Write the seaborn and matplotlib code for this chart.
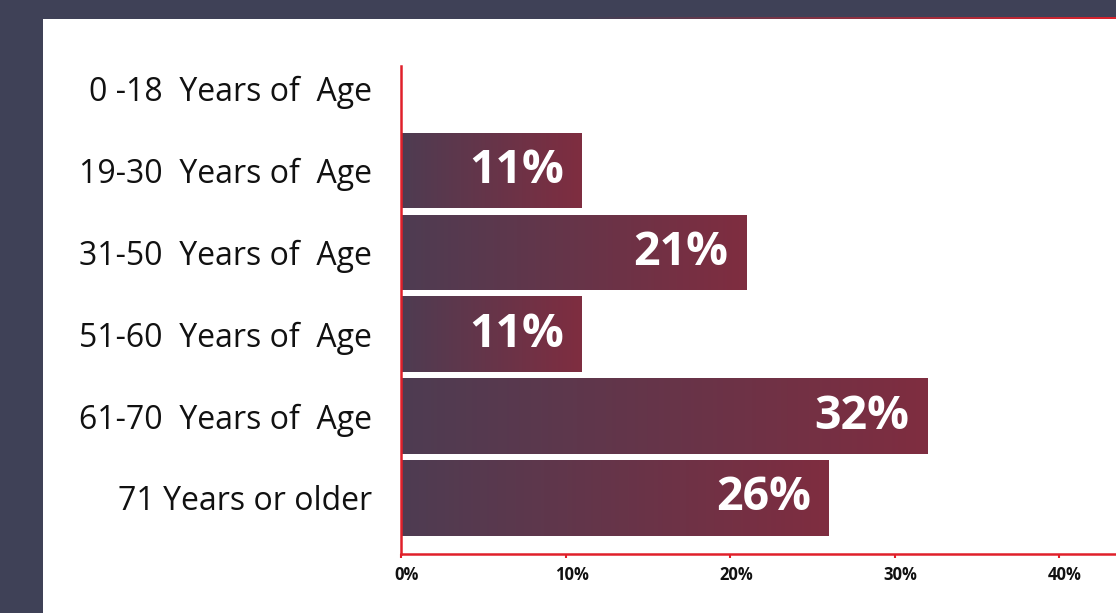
import numpy as np
import pandas as pd
import matplotlib
matplotlib.use("Agg")
import matplotlib.pyplot as plt
import matplotlib.transforms as mtransforms
import seaborn as sns
from matplotlib.colors import LinearSegmentedColormap
from matplotlib.patches import Rectangle

# Share of respondents by age group (percent)
age_groups = [
    "0 -18  Years of  Age",
    "19-30  Years of  Age",
    "31-50  Years of  Age",
    "51-60  Years of  Age",
    "61-70  Years of  Age",
    "71 Years or older",
]
shares = [0, 11, 21, 11, 32, 26]
tick_values = [0, 10, 20, 30, 40]
tick_labels = ["0%", "10%", "20%", "30%", "40%"]

sns.set_theme(style="white")
plt.rcParams["font.family"] = ["Open Sans", "DejaVu Sans"]

BG = "#3f4157"
RED = "#e0202a"
W, H = 1116, 613

fig = plt.figure(figsize=(W / 100, H / 100), dpi=100)
fig.patch.set_facecolor(BG)

# White card
fig.add_artist(Rectangle((43 / W, 0), 1 - 43 / W, (H - 17) / H,
                         transform=fig.transFigure, facecolor="white",
                         edgecolor="none", zorder=0))

# Thin accent line along the top of the card
edge_ax = fig.add_axes([43 / W, (H - 19) / H, 1 - 43 / W, 2 / H])
edge_cmap = LinearSegmentedColormap.from_list("edge", [BG, BG, "#d9232e"])
edge_ax.imshow(np.linspace(0, 1, 256)[None, :], aspect="auto", cmap=edge_cmap,
               extent=[0, 1, 0, 1])
edge_ax.axis("off")

ax = fig.add_axes([401 / W, (H - 554) / H, 1 - 401 / W, (554 - 66) / H])
ax.set_facecolor("none")

df = pd.DataFrame({"group": age_groups, "share": shares})
sns.barplot(data=df, x="share", y="group", orient="h", width=0.92,
            color="#6a3346", saturation=1, ax=ax)

xlim = (0, 715 / 16.45)
ylim = (5.685, -0.275)

# Horizontal gradient fill for each bar
bar_cmap = LinearSegmentedColormap.from_list("bar", ["#4e3c52", "#7f2d40"])
grad = np.linspace(0, 1, 256)[None, :]
for patch in ax.patches:
    x0, y0 = patch.get_x(), patch.get_y()
    w, h = patch.get_width(), patch.get_height()
    if w <= 0:
        continue
    patch.set_facecolor("none")
    patch.set_edgecolor("none")
    im = ax.imshow(grad, extent=[x0, x0 + w, y0 + h, y0], aspect="auto",
                   cmap=bar_cmap, zorder=2, interpolation="bicubic")
    im.set_clip_path(patch)

# Value labels inside the bar ends
for i, v in enumerate(shares):
    if v > 0:
        ax.annotate(f"{v}%", xy=(v, i), xytext=(-13, 0), textcoords="offset points",
                    ha="right", va="center", color="white", fontsize=33.5,
                    fontweight="bold", zorder=3)

ax.set_xlim(*xlim)
ax.set_ylim(*ylim)
ax.set_xticks(tick_values)
ax.set_xticklabels(tick_labels)
ax.set_xlabel("")
ax.set_ylabel("")

for side in ("top", "right"):
    ax.spines[side].set_visible(False)
for side in ("left", "bottom"):
    ax.spines[side].set_color(RED)
    ax.spines[side].set_linewidth(1.8)

ax.tick_params(axis="x", direction="out", length=3, width=1.5, color=RED,
               labelcolor="#111111", labelsize=12, pad=6, bottom=True)
ax.tick_params(axis="y", length=0, pad=21, labelsize=23, labelcolor="#111111")

# Nudge the percent labels slightly right of their ticks
shift = mtransforms.ScaledTranslation(6 / 100, 0, fig.dpi_scale_trans)
for lbl in ax.get_xticklabels():
    lbl.set_fontweight("bold")
    lbl.set_transform(lbl.get_transform() + shift)

fig.savefig("out.png", dpi=100, facecolor=fig.get_facecolor())
